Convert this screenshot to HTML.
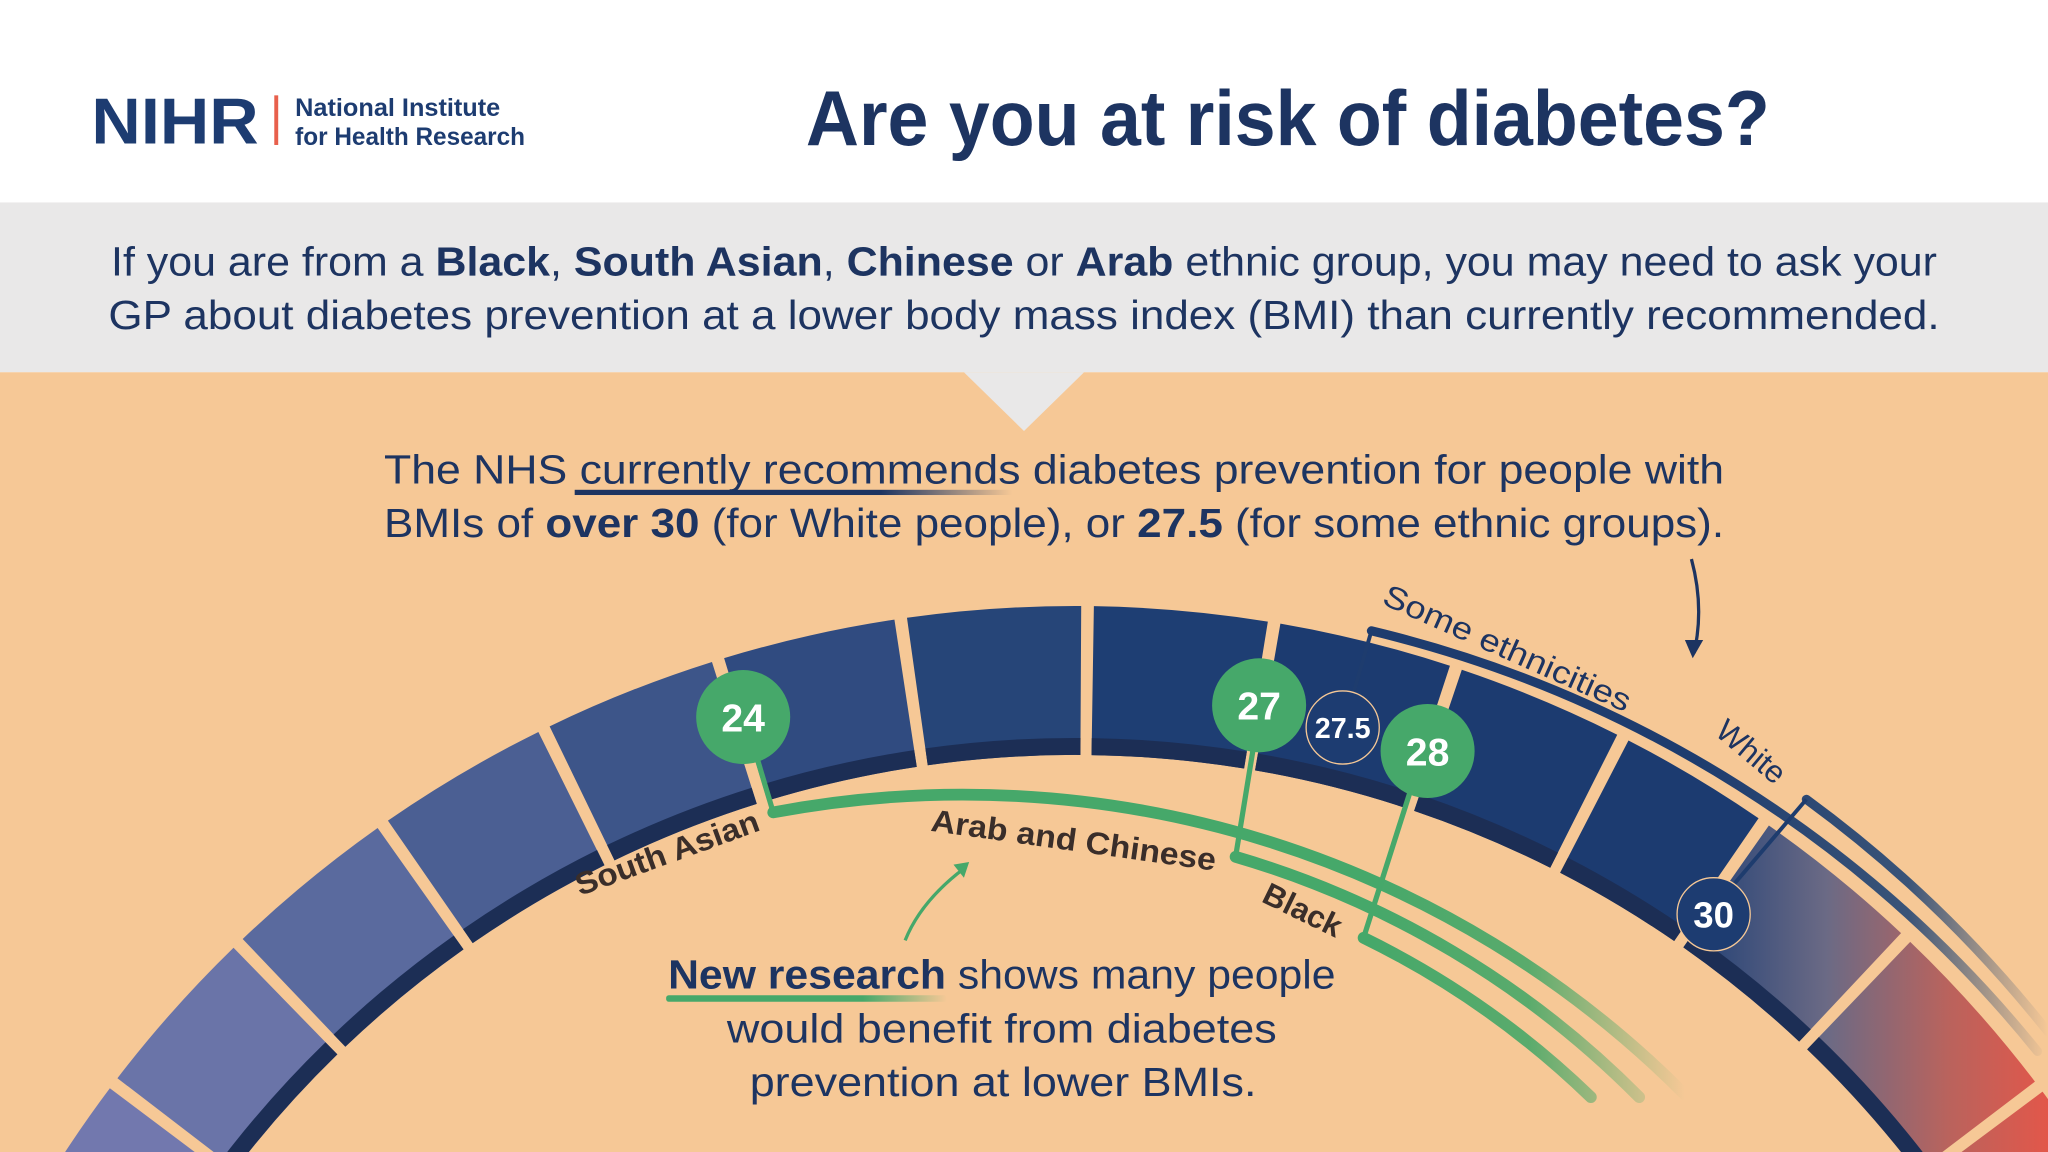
<!DOCTYPE html>
<html><head><meta charset="utf-8"><style>
html,body{margin:0;padding:0;background:#fff;width:2048px;height:1152px;overflow:hidden;}
svg{display:block;}
text{font-family:"Liberation Sans",sans-serif;}
</style></head><body>
<svg id="s" width="2048" height="1152" viewBox="0 0 1568 882" xmlns="http://www.w3.org/2000/svg">
<defs>
<linearGradient id="rg" gradientUnits="userSpaceOnUse" x1="1260" y1="0" x2="1568" y2="0">
<stop offset="0" stop-color="#1d3c71"/><stop offset="0.15" stop-color="#2a4577"/><stop offset="0.45" stop-color="#6b6a85"/><stop offset="0.75" stop-color="#b9635d"/><stop offset="1" stop-color="#e2574a"/></linearGradient>
<linearGradient id="gf" gradientUnits="userSpaceOnUse" x1="1050" y1="0" x2="1290" y2="0">
<stop offset="0" stop-color="#46a86a"/><stop offset="0.5" stop-color="#5aab6c"/><stop offset="1" stop-color="#f6c896"/></linearGradient>
<linearGradient id="bf" gradientUnits="userSpaceOnUse" x1="1300" y1="0" x2="1568" y2="0">
<stop offset="0" stop-color="#1e3c6e"/><stop offset="0.6" stop-color="#3a5478"/><stop offset="1" stop-color="#f6c896"/></linearGradient>
<linearGradient id="ul" x1="0" x2="1" y1="0" y2="0"><stop offset="0" stop-color="#1d3461"/><stop offset="0.7" stop-color="#1d3461"/><stop offset="1" stop-color="#f6c896"/></linearGradient>
<linearGradient id="ulg" x1="0" x2="1" y1="0" y2="0"><stop offset="0" stop-color="#46a86a"/><stop offset="0.7" stop-color="#46a86a"/><stop offset="1" stop-color="#f6c896"/></linearGradient>
</defs>
<rect x="0" y="0" width="1568" height="155" fill="#fff"/>
<rect x="0" y="155" width="1568" height="130" fill="#e9e8e8"/>
<rect x="0" y="285" width="1568" height="597" fill="#f6c896"/>
<polygon points="738,285 830,285 784,330" fill="#e9e8e8"/>

<text x="70" y="110" font-size="50" font-weight="bold" fill="#1d3c71" textLength="128" lengthAdjust="spacingAndGlyphs">NIHR</text>
<rect x="210" y="73" width="3" height="38" fill="#e8604c"/>
<text x="226" y="89" font-size="19" font-weight="bold" fill="#1d3c71" textLength="157" lengthAdjust="spacingAndGlyphs">National Institute</text>
<text x="226" y="111" font-size="19" font-weight="bold" fill="#1d3c71" textLength="176" lengthAdjust="spacingAndGlyphs">for Health Research</text>
<text x="986" y="111" font-size="60" font-weight="bold" fill="#1d3461" text-anchor="middle" textLength="738" lengthAdjust="spacingAndGlyphs">Are you at risk of diabetes?</text>

<g font-size="31" fill="#1d3461" text-anchor="middle">
<text x="784" y="211" textLength="1398" lengthAdjust="spacingAndGlyphs">If you are from a <tspan font-weight="bold">Black</tspan>, <tspan font-weight="bold">South Asian</tspan>, <tspan font-weight="bold">Chinese</tspan> or <tspan font-weight="bold">Arab</tspan> ethnic group, you may need to ask your</text>
<text x="784" y="252" textLength="1402" lengthAdjust="spacingAndGlyphs">GP about diabetes prevention at a lower body mass index (BMI) than currently recommended.</text>
</g>
<g font-size="31" fill="#1d3461">
<text x="294" y="370" textLength="1026" lengthAdjust="spacingAndGlyphs">The NHS currently recommends diabetes prevention for people with</text>
<text x="294" y="411" textLength="1026" lengthAdjust="spacingAndGlyphs">BMIs of <tspan font-weight="bold">over 30</tspan> (for White people), or <tspan font-weight="bold">27.5</tspan> (for some ethnic groups).</text>
</g>
<rect x="440" y="375" width="335" height="4" fill="url(#ul)"/>

<g id="band"></g>

<g fill="none" stroke-width="9" stroke-linecap="round">
<path d="M592,622 A780,780 0 0 1 1290,838" stroke="url(#gf)"/>
<path d="M946,656 A720,720 0 0 1 1255,840" stroke="url(#gf)"/>
<path d="M1044,718 A680,680 0 0 1 1218,840" stroke="url(#gf)"/>
</g>
<g stroke="#46a86a" stroke-width="4">
<line x1="578" y1="575" x2="592" y2="622"/>
<line x1="960" y1="570" x2="946" y2="656"/>
<line x1="1080" y1="605" x2="1044" y2="718"/>
</g>
<g fill="none" stroke-width="7" stroke-linecap="round">
<path d="M1050,483 A935,935 0 0 1 1560,805" stroke="url(#bf)"/>
<path d="M1383,612 A960,960 0 0 1 1568,790" stroke="url(#bf)"/>
</g>
<line x1="1050" y1="483" x2="1035" y2="535" stroke="#1e3c6e" stroke-width="3"/>
<line x1="1383" y1="612" x2="1325" y2="680" stroke="#1e3c6e" stroke-width="3"/>

<g font-weight="bold" text-anchor="middle" fill="#fff">
<circle cx="569" cy="549" r="36" fill="#46a86a"/><text x="569" y="560" font-size="30">24</text>
<circle cx="964" cy="540" r="36" fill="#46a86a"/><text x="964" y="551" font-size="30">27</text>
<circle cx="1028" cy="557" r="28" fill="#1d3c71" stroke="#f6c896" stroke-width="1"/><text x="1028" y="565" font-size="22">27.5</text>
<circle cx="1093" cy="575" r="36" fill="#46a86a"/><text x="1093" y="586" font-size="30">28</text>
<circle cx="1312" cy="700" r="28" fill="#1d3c71" stroke="#f6c896" stroke-width="1"/><text x="1312" y="710" font-size="28">30</text>
</g>

<g font-size="24" font-weight="bold" fill="#3a2e2a">
<text transform="translate(444,686) rotate(-20)" textLength="148" lengthAdjust="spacingAndGlyphs">South Asian</text>
<text transform="translate(712,636) rotate(8)" textLength="220" lengthAdjust="spacingAndGlyphs">Arab and Chinese</text>
<text transform="translate(965,690) rotate(26)">Black</text>
</g>
<g font-size="24" fill="#1d3461">
<text transform="translate(1057,462) rotate(24)" textLength="205" lengthAdjust="spacingAndGlyphs">Some ethnicities</text>
<text transform="translate(1312,562) rotate(40)">White</text>
</g>
<path d="M1295,428 Q1305,465 1297,500" fill="none" stroke="#1d3461" stroke-width="2.5"/>
<polygon points="1290,490 1304,490 1296,504" fill="#1d3461"/>
<path d="M693,720 Q705,690 738,665" fill="none" stroke="#46a86a" stroke-width="2.5"/>
<polygon points="730,662 742,660 738,672" fill="#46a86a"/>

<g font-size="31" fill="#1d3461" text-anchor="middle">
<text x="767" y="757" textLength="511" lengthAdjust="spacingAndGlyphs"><tspan font-weight="bold">New research</tspan> shows many people</text>
<text x="767" y="798" textLength="421" lengthAdjust="spacingAndGlyphs">would benefit from diabetes</text>
<text x="768" y="839" textLength="388" lengthAdjust="spacingAndGlyphs">prevention at lower BMIs.</text>
</g>
<rect x="510" y="762" width="215" height="5" rx="2" fill="url(#ulg)"/>
</svg>
<script>
(function(){
var cx=823,cy=1388,R1=810,R2=924,Rs=823;
var B=[-75,-52.8,-43.9,-35,-26.1,-17.2,-8.3,0.6,9.5,18.4,27.0,34.8,43.5,53.0,75];
var C=['#7278ae','#6a74a8','#5a6a9e','#4b5f93','#3d5589','#304b80','#264578','#1e3e73','#1c3b70','#1c3b70','#1c3b70','url(#rg)','url(#rg)','url(#rg)'];
function pt(r,a){a=a*Math.PI/180;return (cx+r*Math.sin(a)).toFixed(1)+','+(cy-r*Math.cos(a)).toFixed(1);}
function seg(a1,a2,r1,r2,f){return '<path fill="'+f+'" d="M'+pt(r2,a1)+' A'+r2+','+r2+' 0 0 1 '+pt(r2,a2)+' L'+pt(r1,a2)+' A'+r1+','+r1+' 0 0 0 '+pt(r1,a1)+' Z"/>';}
var h='';
for(var i=0;i<B.length-1;i++){
 var a1=B[i]+0.3,a2=B[i+1]-0.3;
 h+=seg(a1,a2,R1,R2,C[i]);
 h+=seg(a1,a2,R1,Rs,'#1c2e55');
}
document.getElementById('band').innerHTML=h;
})();
</script>
</body></html>
